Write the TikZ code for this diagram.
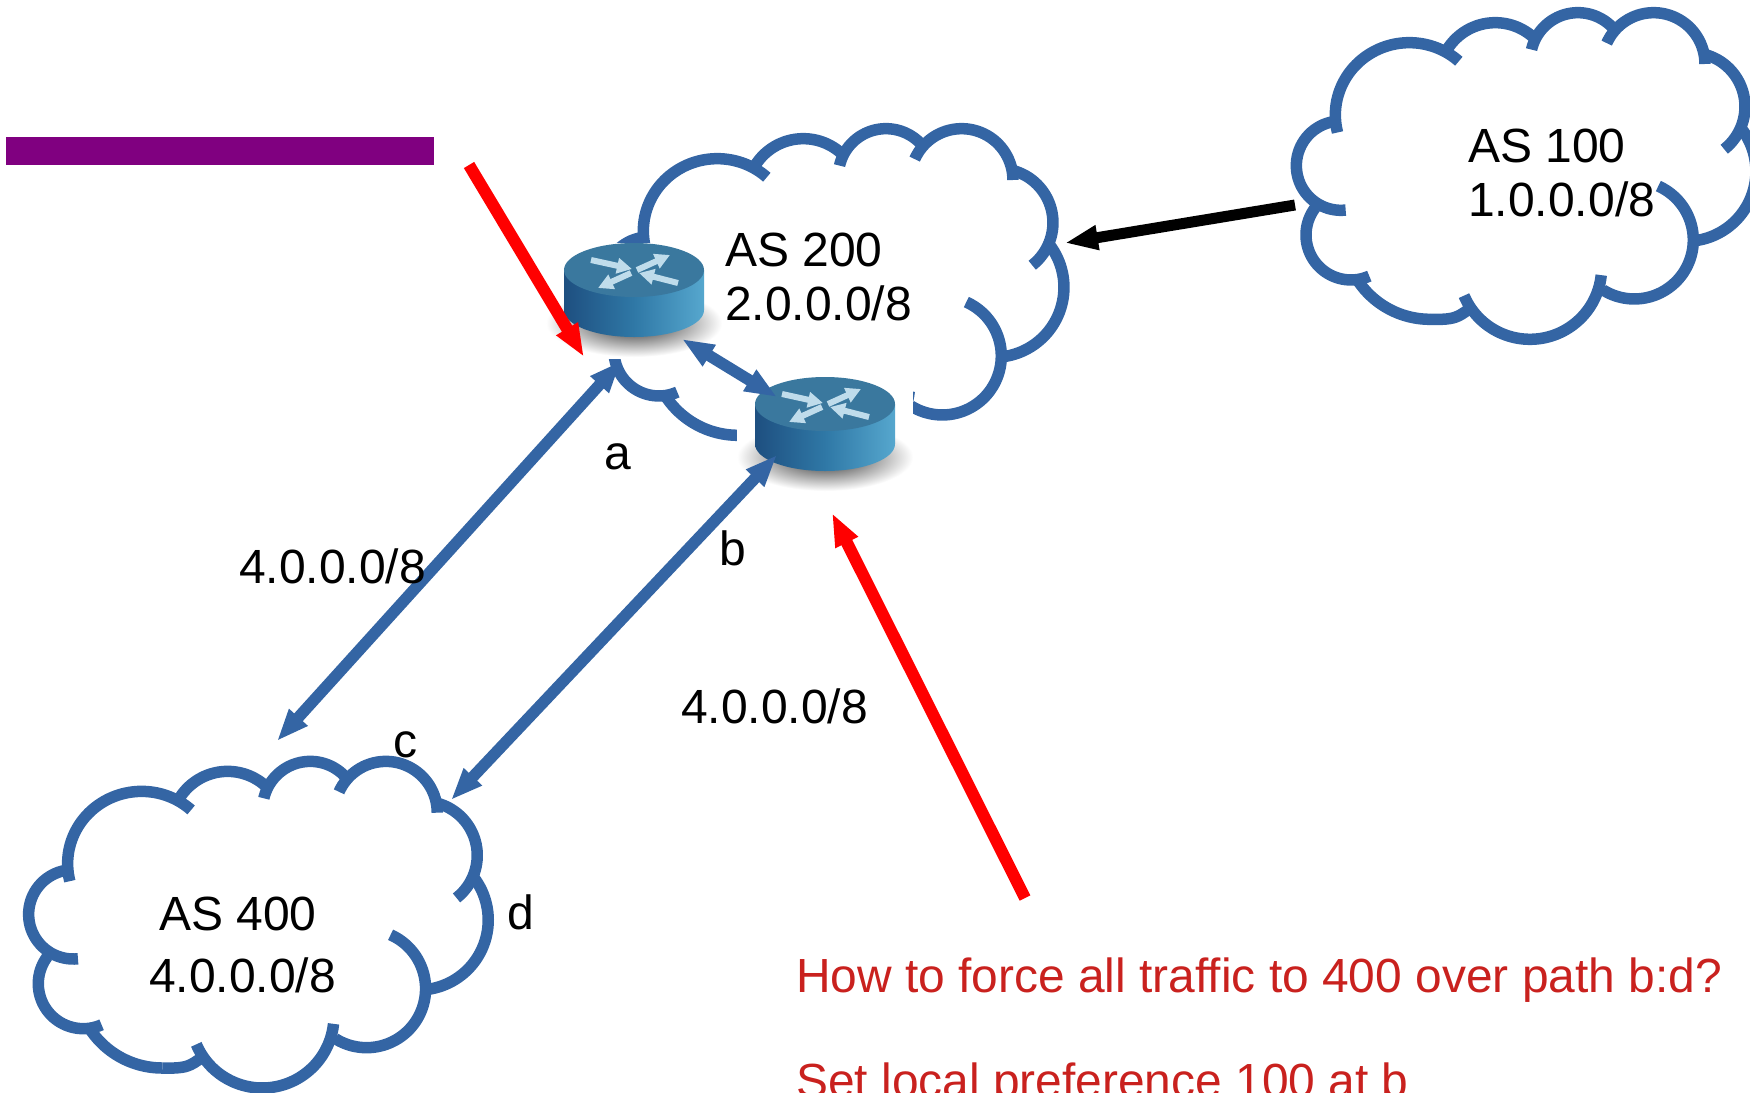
\documentclass[tikz,border=0pt]{standalone}
\usepackage{fontspec}
\setmainfont{Liberation Sans}
\usetikzlibrary{arrows.meta,shadings}

\definecolor{linkblue}{HTML}{3465A4}
\definecolor{asktext}{HTML}{C9211E}
\definecolor{barpurple}{HTML}{800080}
\definecolor{routerlow}{HTML}{1E4F80}
\definecolor{routermid}{HTML}{2F78A6}
\definecolor{routerhigh}{HTML}{56A7CE}
\definecolor{routertop}{HTML}{3A789E}
\definecolor{routerarrow}{HTML}{BFDCEB}

\tikzset{
  pics/ascloud/.style={code={
    \begin{scope}[x=0.3333pt,y=-0.3333pt]
      \foreach \cx/\cy/\rx/\ry/\aLow/\aHigh in {
        213/497/134/134/100/276, 418/345/222/217/48/194, 676/238/170/170/47/149,
        924/181/143/143/42/167, 1151/192/154/154/0/156, 1263/320/162/162/-52/78,
        1248/514/210/210/-82/37, 1093/720/177/177/-122/66, 780/803/215/215/-157/-6,
        480/698/260/260/-148/-90, 243/705/135/135/143/294}
        \draw[cloudline] plot[domain=\aLow:\aHigh, samples=40, smooth] ({\cx+\rx*cos(\x)},{\cy-\ry*sin(\x)});
      \draw[cloudline] plot[smooth, tension=0.7] coordinates {(480,958) (530,957) (565,948) (596,928)};
    \end{scope}
  }},
  pics/router/.style={code={
    \shade[inner color=black!85, outer color=white] (0,22) ellipse (88 and 34);
    \shade[left color=routerlow, right color=routerhigh, middle color=routermid]
      (-70,-31) -- (-70,9) .. controls (-70,24) and (-39,36) .. (0,36)
      .. controls (39,36) and (70,24) .. (70,9) -- (70,-31) -- cycle;
    \fill[routertop] (0,-31) ellipse (70 and 27);
    \draw[routersign] (-43,-41) -- (-2,-32);
    \draw[routersign] (3,-31) -- (36,-46);
    \draw[routersign] (-3,-28) -- (-36,-13);
    \draw[routersign] (44,-18) -- (5,-28);
  }}
}

\begin{document}
\begin{tikzpicture}[
  x=1pt,y=-1pt,
  every node/.style={inner sep=0pt, font=\fontsize{48}{54}\selectfont},
  cloudline/.style={draw=linkblue, line width=11.5pt},
  routerbox/.style={fill=white, minimum width=176pt, minimum height=116pt},
  routersign/.style={-{Triangle[length=15pt,width=15pt]}, draw=routerarrow, line width=6pt},
  link/.style={{Triangle[length=32pt,width=23pt]}-{Triangle[length=32pt,width=23pt]}, draw=linkblue, line width=11.5pt},
  pointer/.style={-{Triangle[length=33pt,width=23pt]}, draw=red, line width=12pt},
  route/.style={-{Triangle[length=33pt,width=23pt]}, draw=black, line width=11pt},
  lbl/.style={anchor=base west},
  aslbl/.style={anchor=north west, align=left},
  asktxt/.style={anchor=base west, text=asktext, font=\fontsize{47.9}{54}\selectfont}
  ]

  \useasboundingbox (0,0) rectangle (1750,1092);
  \clip (0,0) rectangle (1750,1092);

  \pic at (1270,0) {ascloud};
  \pic at (578,116) {ascloud};
  \pic at (2.3,748.7) {ascloud};

  \node[routerbox] (rtrA) at (634,301) {};
  \node[routerbox] (rtrB) at (825,435) {};
  \pic at (rtrA) {router};
  \pic at (rtrB) {router};

  \fill[barpurple] (6,137) rectangle (434,165);

  \coordinate (abA) at (682,339);
  \coordinate (abB) at (777,397);
  \coordinate (acA) at (621,361);
  \coordinate (acC) at (277,741);
  \coordinate (bdB) at (777,455);
  \coordinate (bdD) at (451,800);
  \coordinate (routeTail) at (1295,205);
  \coordinate (routeTip) at (1065,243);
  \coordinate (pointATail) at (469,165);
  \coordinate (pointATip) at (584,357);
  \coordinate (pointBTail) at (1025,898);
  \coordinate (pointBTip) at (832,513);

  \draw[link] (abA) -- (abB);
  \draw[link] (acA) -- (acC);
  \draw[link] (bdB) -- (bdD);
  \draw[route] (routeTail) -- (routeTip);
  \draw[pointer] (pointATail) -- (pointATip);
  \draw[pointer] (pointBTail) -- (pointBTip);

  \node[aslbl] (as100) at (1468,129) {AS 100\\1.0.0.0/8};
  \node[aslbl] (as200) at (725,233) {AS 200\\2.0.0.0/8};
  \node[aslbl, font=\fontsize{48}{62}\selectfont] (as400) at (149,897) {\hspace*{10pt}AS 400\\4.0.0.0/8};

  \node[lbl] (pfxA) at (239,583) {4.0.0.0/8};
  \node[lbl] (pfxB) at (681,723) {4.0.0.0/8};
  \node[lbl] (ifA) at (604,469) {a};
  \node[lbl] (ifB) at (719,565) {b};
  \node[lbl] (ifC) at (393,757) {c};
  \node[lbl] (ifD) at (507,929) {d};

  \node[asktxt] (ask) at (796,992) {How to force all traffic to 400 over path b:d?};
  \node[asktxt] (answer) at (796,1097) {Set local preference 100 at b};
\end{tikzpicture}
\end{document}
